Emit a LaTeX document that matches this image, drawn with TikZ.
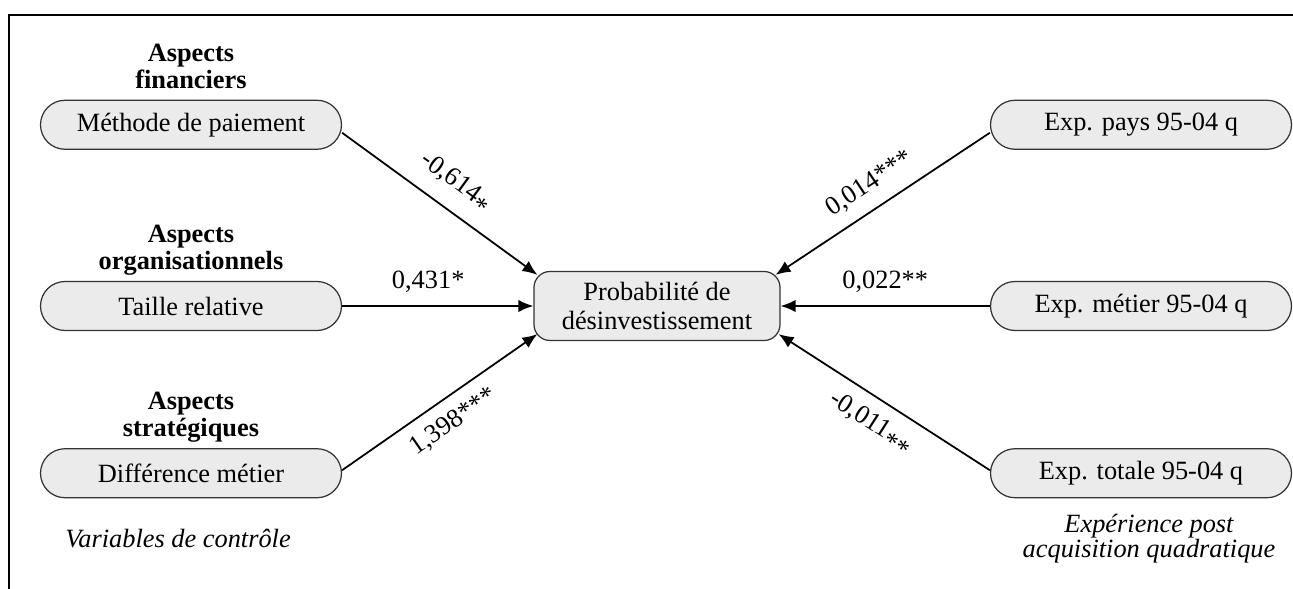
\documentclass[tikz,border=0pt]{standalone}
\usepackage{fontspec}
\setmainfont{Liberation Serif}
\usepackage{tikz}
\usetikzlibrary{arrows.meta, positioning}

\newcommand{\lowstar}{\raisebox{-0.3em}{*}}

\begin{document}
\begin{tikzpicture}[
    font=\fontsize{15}{17}\selectfont,
    >={Latex[length=8.5pt, width=7pt]},
    pill/.style={
      draw=black!80,
      fill=black!8,
      line width=0.7pt,
      rounded corners=0.49cm,
      align=center,
      minimum width=6.02cm,
      minimum height=0.98cm,
      inner sep=0pt
    },
    outcome/.style={
      draw=black!80,
      fill=black!8,
      line width=0.7pt,
      rounded corners=0.32cm,
      align=center,
      minimum width=4.92cm,
      minimum height=1.38cm,
      inner sep=0pt
    },
    heading/.style={
      font=\fontsize{15}{15.5}\selectfont\bfseries,
      align=center,
      inner sep=0pt,
      text depth=0pt
    },
    note/.style={font=\fontsize{15}{14}\selectfont\itshape, align=center},
    coef/.style={midway, sloped, inner sep=7pt},
    arrow/.style={->, line width=1pt}
]
\useasboundingbox (0,0) rectangle (25.86,11.78);

% open frame, top and left only
\draw[line width=1.1pt] (0.18,0) |- (25.86,11.48);

% dependent variable
\node[outcome] (prob) at (13.14,5.66) {Probabilité de\\désinvestissement};

% control variables
\node[pill] (taille) at (3.82,5.66) {Taille relative};
\node[pill, above=2.62cm of taille] (meth) {Méthode de paiement};
\node[pill, below=2.34cm of taille] (diff) {Différence métier};

\node[heading, above=0.22cm of meth] (hfin) {Aspects\\financiers};
\node[heading, above=0.22cm of taille] (horg) {Aspects\\organisationnels};
\node[heading, above=0.22cm of diff] (hstrat) {Aspects\\stratégiques};
\node[note, below=0.5cm of diff, xshift=-0.26cm] (ctrl) {Variables de contrôle};

% experience variables
\node[pill] (metier) at (22.82,5.66) {Exp. métier 95-04 q};
\node[pill, above=2.62cm of metier] (pays) {Exp. pays 95-04 q};
\node[pill, below=2.34cm of metier] (totale) {Exp. totale 95-04 q};
\node[note, below=0.2cm of totale, xshift=0.16cm] (exper) {Expérience post\\acquisition quadratique};

% coefficients
\draw[arrow] ([yshift=-0.16cm]meth.east) -- node[coef, above] {-0,614\lowstar} ([shift={(0.08,-0.08)}]prob.north west);
\draw[arrow] (taille.east) -- node[coef, above, pos=0.45] {0,431*} (prob.west);
\draw[arrow] ([yshift=0.06cm]diff.east) -- node[coef, below] {1,398***} ([shift={(0.08,0.14)}]prob.south west);

\draw[arrow] ([yshift=-0.16cm]pays.west) -- node[coef, above] {0,014***} ([shift={(-0.1,-0.08)}]prob.north east);
\draw[arrow] (metier.west) -- node[coef, above] {0,022**} (prob.east);
\draw[arrow] ([yshift=0.06cm]totale.west) -- node[coef, below] {-0,011\lowstar\lowstar} ([shift={(-0.04,0.14)}]prob.south east);
\end{tikzpicture}
\end{document}
